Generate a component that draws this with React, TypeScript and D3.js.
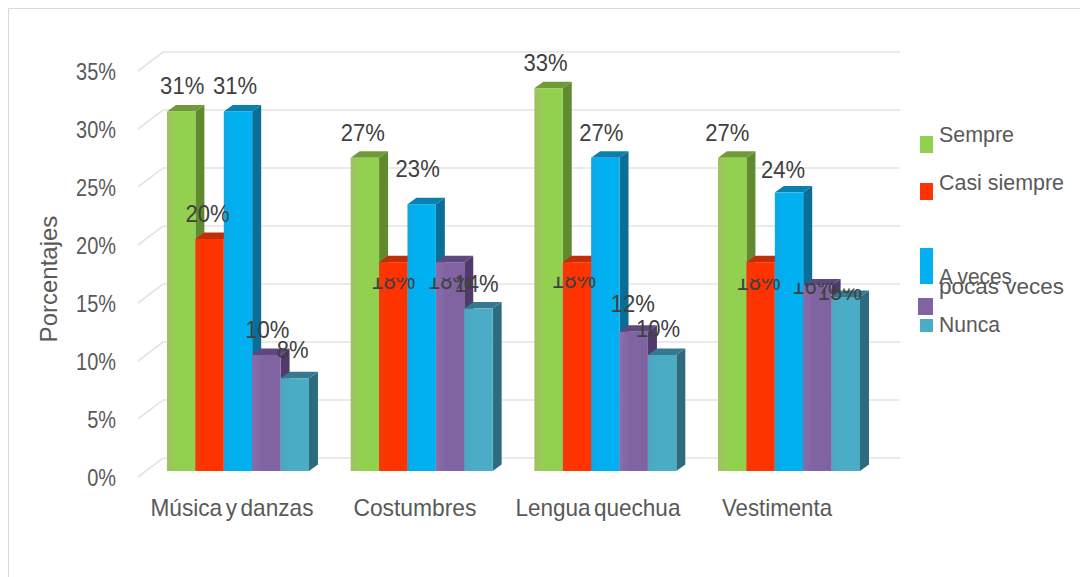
import React from "react";
import * as d3 from "d3";

const categories = ["Música y danzas", "Costumbres", "Lengua quechua", "Vestimenta"];
const seriesNames = ["Sempre", "Casi siempre", "A veces", "pocas veces", "Nunca"];
const sempre = [31, 27, 33, 27];
const casiSiempre = [20, 18, 18, 18];
const aVeces = [31, 23, 27, 24];
const pocasVeces = [10, 18, 12, 16];
const nunca = [8, 14, 10, 15];
const seriesValues = [sempre, casiSiempre, aVeces, pocasVeces, nunca];
const yTicks = [0, 5, 10, 15, 20, 25, 30, 35];

const front = ["#92D050", "#FF3300", "#00B0F0", "#8064A2", "#4BACC6"];
const frontEdge = ["#A3BF62", "#F23A0A", "#0AA8E6", "#8A6CA8", "#4BA6C2"];
const side = ["#5F8A2E", "#A82A0C", "#0B6E99", "#4F3A6B", "#2F6B7E"];
const topFace = ["#6E9A38", "#C22E08", "#0A80AE", "#5E4880", "#36798F"];

// per-label placement nudges [dx, dy, clipped], indexed [series][category]
const labelNudge: [number, number, boolean][][] = [
  [[1, 0, false], [-2, 0, false], [-3, 0, false], [-5, 0, false]],
  [[-2, 0, false], [0, 44, true], [-3, 43, true], [-2, 45, true]],
  [[-3, 0, false], [-4, -10, false], [-4, 0, false], [-6, 2, false]],
  [[1, 0, false], [0, 44, true], [-1, -3, false], [-3, 26, true]],
  [[-2, -3, false], [-2, 0, false], [-4, -1, false], [-6, 20, true]],
];

const legendSwatches = [
  { x: 920, y: 136, w: 13, h: 17 },
  { x: 920, y: 183, w: 13, h: 17 },
  { x: 920, y: 248, w: 13, h: 36 },
  { x: 918, y: 298, w: 15, h: 17 },
  { x: 920, y: 319, w: 13, h: 13 },
];
const legendBaselines = [142, 190, 284, 294, 332];
const legendWidths = [75, 125, 73, 125, 61];
const categoryNudge = [-6, -6.7, -7.4, -12];
const categoryWidths = [163, 123, 165, 110];

const y = d3.scaleLinear().domain([0, 35]).range([471, 65]);
const x0 = d3.scaleBand<string>().domain(categories).range([167, 860]).paddingInner(0.227).paddingOuter(0).align(0);
const x1 = d3.scaleBand<string>().domain(seriesNames).range([0, x0.bandwidth()]);

const DX = 9;
const DY = 6.5;
const font = "'Liberation Sans', Arial, sans-serif";
const textColor = "#595959";
const labelColor = "#404040";

export default function App() {
  const w = x1.bandwidth();
  const bars = categories.flatMap((c, ci) =>
    seriesNames.map((s, si) => {
      const left = (x0(c) as number) + (x1(s) as number);
      const top = y(seriesValues[si][ci]);
      const bottom = y(0);
      const right = left + w;
      return (
        <g key={`${c}-${s}`}>
          <path d={`M${right},${top}L${right + DX},${top - DY}L${right + DX},${bottom - DY}L${right},${bottom}Z`} fill={side[si]} />
          <path d={`M${left},${top}L${left + DX},${top - DY}L${right + DX},${top - DY}L${right},${top}Z`} fill={topFace[si]} />
          <rect x={left} y={top} width={w} height={bottom - top} fill={`url(#grad${si})`} />
        </g>
      );
    })
  );

  const clips: React.ReactNode[] = [];
  const labels = categories.flatMap((c, ci) =>
    seriesNames.map((s, si) => {
      const v = seriesValues[si][ci];
      const [dx, dy, clipped] = labelNudge[si][ci];
      const cx = (x0(c) as number) + (x1(s) as number) + w / 2 + dx;
      const by = y(v) - 17 + dy;
      const id = `clip-${ci}-${si}`;
      if (clipped) {
        clips.push(
          <clipPath id={id} key={id}>
            <rect x={cx - 30} y={by - 11.5} width={60} height={20} />
          </clipPath>
        );
      }
      return (
        <g key={id} clipPath={clipped ? `url(#${id})` : undefined}>
          <text
            transform={`translate(${cx},${by}) scale(0.92,1)`}
            textAnchor="middle"
            fontSize={24}
            fill={labelColor}
          >
            {`${v}%`}
          </text>
        </g>
      );
    })
  );

  return (
    <svg
      width={1080}
      height={577}
      style={{ position: "absolute", left: 0, top: 0, display: "block", background: "#fff" }}
      fontFamily={font}
    >
      <defs>
        {front.map((col, i) => (
          <linearGradient id={`grad${i}`} key={i} x1="0" x2="1" y1="0" y2="0">
            <stop offset="0" stopColor={frontEdge[i]} />
            <stop offset="0.35" stopColor={col} />
            <stop offset="1" stopColor={col} />
          </linearGradient>
        ))}
        {clips}
      </defs>

      <path d="M1080,8.5H8.5V577" fill="none" stroke="#d9d9d9" strokeWidth={1} />

      {yTicks.map((t) => (
        <g key={t}>
          <path
            d={`M138,${y(t) + 6}L163,${y(t) - 13}H900`}
            fill="none"
            stroke="#e4e4e4"
            strokeWidth={1.6}
          />
          <text
            transform={`translate(116,${y(t) + 15}) scale(0.85,1)`}
            textAnchor="end"
            fontSize={23.5}
            fill={textColor}
          >
            {`${t}%`}
          </text>
        </g>
      ))}

      {bars}
      {labels}

      {categories.map((c, i) => (
        <text
          key={c}
          x={(x0(c) as number) + x0.bandwidth() / 2 + categoryNudge[i]}
          y={516}
          textAnchor="middle"
          fontSize={24}
          wordSpacing={-3}
          textLength={categoryWidths[i]}
          lengthAdjust="spacingAndGlyphs"
          fill={textColor}
        >
          {c}
        </text>
      ))}

      <text transform="translate(57,279) rotate(-90)" textAnchor="middle" fontSize={24} fill={textColor}>
        Porcentajes
      </text>

      {seriesNames.map((s, i) => (
        <g key={s}>
          <rect {...{ x: legendSwatches[i].x, y: legendSwatches[i].y, width: legendSwatches[i].w, height: legendSwatches[i].h }} fill={front[i]} />
          <text
            x={939}
            y={legendBaselines[i]}
            fontSize={21.4}
            textLength={legendWidths[i]}
            lengthAdjust="spacingAndGlyphs"
            fill={textColor}
          >
            {s}
          </text>
        </g>
      ))}
    </svg>
  );
}
